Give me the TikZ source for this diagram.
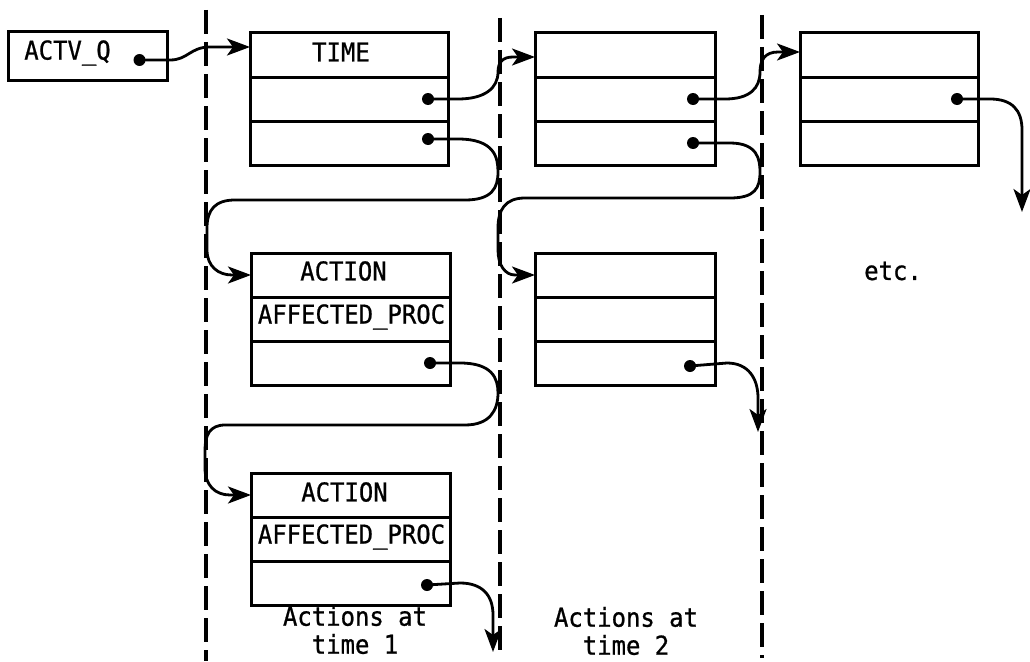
\documentclass[tikz,border=0pt]{standalone}
\usepackage{fontspec}
\newfontfamily\dmono[FakeStretch=0.92,FakeBold=0.8]{DejaVu Sans Mono}
\usetikzlibrary{arrows.meta,calc}
\tikzset{
  cell/.style={draw, line width=3pt, inner sep=0pt, outer sep=0pt, minimum height=44pt, anchor=north west},
  lbl/.style={font=\dmono\fontsize{26pt}{28pt}\selectfont, inner sep=0pt},
  link/.style={line width=2.8pt, -{Stealth[length=23pt,width=17pt,inset=6pt]}},
  divider/.style={line width=3.6pt, dash pattern=on 24pt off 8pt},
  dot/.style={fill=black}
}
\begin{document}
\begin{tikzpicture}[x=1pt,y=-1pt]
\useasboundingbox (0,0) rectangle (1030,661);
% dividers
\coordinate (d1t) at (206,10);  \coordinate (d1b) at (206,661);
\coordinate (d2t) at (500,18);  \coordinate (d2b) at (500,655);
\coordinate (d3t) at (762,15);  \coordinate (d3b) at (762,658);
\draw[divider] (d1t) -- (d1b);
\draw[divider] (d2t) -- (d2b);
\draw[divider] (d3t) -- (d3b);

% ACTV_Q
\node[draw, line width=3pt, outer sep=0pt, minimum width=159pt, minimum height=48pt, inner sep=0pt] (actvq) at (87.5,56) {};
\node[lbl] (actvqt) at ([xshift=-20pt,yshift=3pt]actvq.center) {ACTV\_Q};
\coordinate (qd) at ([xshift=52pt,yshift=-4pt]actvq.center);

% TIME record 1
\node[cell, minimum width=198pt] (t1r1) at (250,33) {};
\node[cell, minimum width=198pt] (t1r2) at (t1r1.south west) {};
\node[cell, minimum width=198pt] (t1r3) at (t1r2.south west) {};
\node[lbl] (t1t) at ([xshift=-8pt,yshift=3pt]t1r1.center) {TIME};

% TIME record 2
\node[cell, minimum width=180pt] (t2r1) at (535,33) {};
\node[cell, minimum width=180pt] (t2r2) at (t2r1.south west) {};
\node[cell, minimum width=180pt] (t2r3) at (t2r2.south west) {};

% TIME record 3
\node[cell, minimum width=178pt] (t3r1) at (800,33) {};
\node[cell, minimum width=178pt] (t3r2) at (t3r1.south west) {};
\node[cell, minimum width=178pt] (t3r3) at (t3r2.south west) {};

% ACTION records time 1
\node[cell, minimum width=199pt] (a1r1) at (251,253) {};
\node[cell, minimum width=199pt] (a1r2) at (a1r1.south west) {};
\node[cell, minimum width=199pt] (a1r3) at (a1r2.south west) {};
\node[lbl] (a1t1) at ([xshift=-7pt,yshift=4pt]a1r1.center) {ACTION};
\node[lbl] (a1t2) at ([xshift=1pt,yshift=2pt]a1r2.center) {AFFECTED\_PROC};

\node[cell, minimum width=199pt] (a2r1) at (251,473) {};
\node[cell, minimum width=199pt] (a2r2) at (a2r1.south west) {};
\node[cell, minimum width=199pt] (a2r3) at (a2r2.south west) {};
\node[lbl] (a2t1) at ([xshift=-6pt,yshift=3pt]a2r1.center) {ACTION};
\node[lbl] (a2t2) at ([xshift=1pt,yshift=2pt]a2r2.center) {AFFECTED\_PROC};

% ACTION record time 2
\node[cell, minimum width=180pt] (b1r1) at (535,253) {};
\node[cell, minimum width=180pt] (b1r2) at (b1r1.south west) {};
\node[cell, minimum width=180pt] (b1r3) at (b1r2.south west) {};

% pointer dots
\coordinate (t1d2) at ([xshift=-20pt]t1r2.east);
\coordinate (t1d3) at ([xshift=-20pt,yshift=4pt]t1r3.east);
\coordinate (t2d2) at ([xshift=-22pt]t2r2.east);
\coordinate (t2d3) at ([xshift=-22pt]t2r3.east);
\coordinate (t3d2) at ([xshift=-21pt]t3r2.east);
\coordinate (a1d3) at ([xshift=-20pt]a1r3.east);
\coordinate (a2d3) at ([xshift=-23pt,yshift=-2pt]a2r3.east);
\coordinate (b1d3) at ([xshift=-25pt,yshift=-3pt]b1r3.east);
\foreach \p in {qd,t1d2,t1d3,t2d2,t2d3,t3d2,a1d3,a2d3,b1d3}
  \fill[dot] (\p) circle (6pt);

% entry points
\coordinate (t1in) at ([yshift=8pt]t1r1.west);
\coordinate (t2in) at ([yshift=-2pt]t2r1.west);
\coordinate (t3in) at ([yshift=3pt]t3r1.west);
\coordinate (a1in) at (a1r1.west);
\coordinate (a2in) at (a2r1.west);
\coordinate (b1in) at (b1r1.west);
\coordinate (t3out) at (1022,212);
\coordinate (a2out) at (493,652);
\coordinate (b1out) at (758,432);

% connectors
\draw[link] (qd) -- (170,60) .. controls (188,60) and (190,47) .. (210,47) -- (t1in);
\draw[link] (t1d2) -- (458,99) .. controls (485,99) and (498,88) .. (498,72)
  .. controls (498,62) and (503,57) .. (513,57) -- (t2in);
\draw[link] (t1d3) -- (458,139) .. controls (495,139) and (498,158) .. (498,172)
  .. controls (498,188) and (492,200) .. (465,200) -- (235,200)
  .. controls (215,200) and (207,210) .. (207,228) -- (207,250)
  .. controls (207,266) and (218,275) .. (232,275) -- (a1in);
\draw[link] (t2d2) -- (725,99) .. controls (750,99) and (760,88) .. (760,72)
  .. controls (760,60) and (765,52) .. (778,52) -- (t3in);
\draw[link] (t2d3) -- (730,143) .. controls (758,143) and (760,160) .. (760,172)
  .. controls (760,188) and (755,198) .. (730,198) -- (525,198)
  .. controls (505,198) and (498,210) .. (498,228) -- (498,250)
  .. controls (498,265) and (505,275) .. (515,275) -- (b1in);
\draw[link] (t3d2) -- (990,99) .. controls (1012,99) and (1022,110) .. (1022,130) -- (t3out);
\draw[link] (a1d3) -- (460,363) .. controls (492,363) and (498,378) .. (498,393)
  .. controls (498,410) and (490,425) .. (465,425) -- (225,425)
  .. controls (210,425) and (205,435) .. (205,450) -- (205,468)
  .. controls (205,485) and (215,495) .. (230,495) -- (a2in);
\draw[link] (a2d3) -- (460,583) .. controls (482,583) and (493,595) .. (493,615) -- (a2out);
\draw[link] (b1d3) -- (727,363) .. controls (748,363) and (758,378) .. (758,398) -- (b1out);

% captions
\node[lbl, align=center] (cap1) at (355,630) {Actions at\\time 1};
\node[lbl, align=center] (cap2) at (626,631) {Actions at\\time 2};
\node[lbl] (etc) at (893,271) {etc.};
\end{tikzpicture}
\end{document}
